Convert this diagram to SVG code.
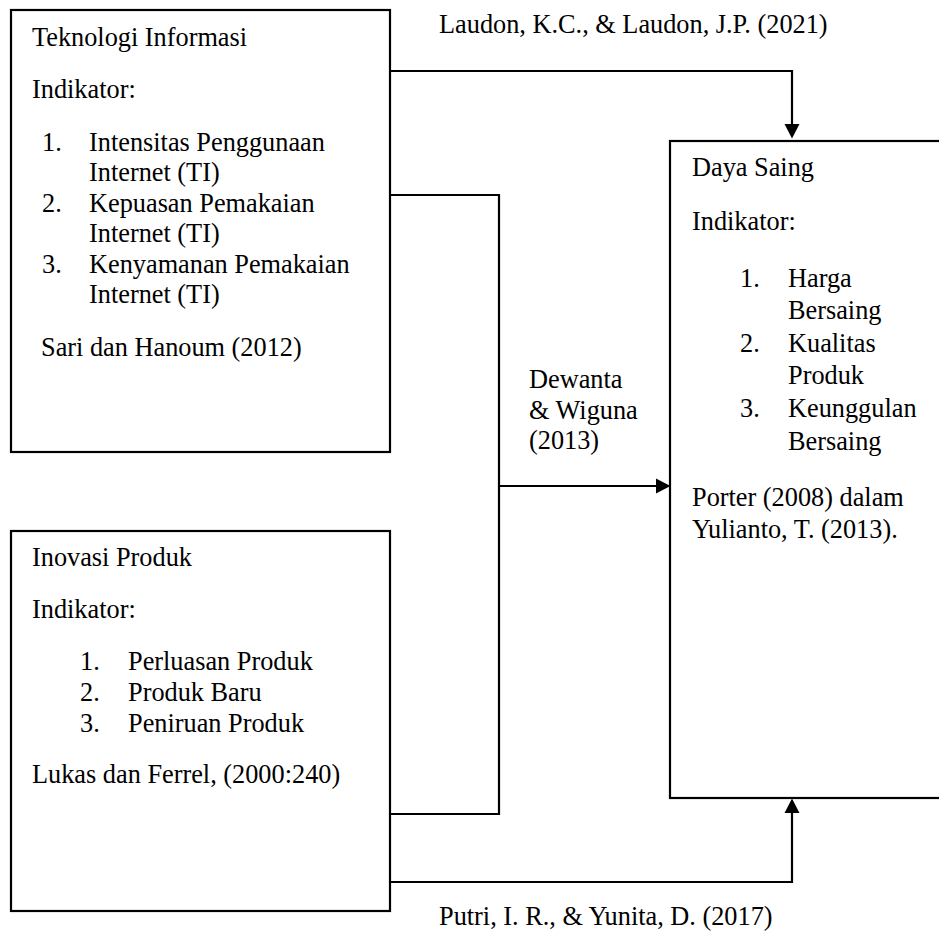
<svg xmlns="http://www.w3.org/2000/svg" width="939" height="932" viewBox="0 0 939 932">
<defs>
<style>
.t{font-family:'Liberation Serif','Times New Roman','DejaVu Serif',serif;font-size:26.3px;fill:#000}
.box{fill:#fff;stroke:#000;stroke-width:2.2}
.conn{fill:none;stroke:#000;stroke-width:2.2}
</style>
<marker id="arrow" markerUnits="userSpaceOnUse" markerWidth="15" markerHeight="16" refX="0" refY="7.5" orient="auto" overflow="visible">
<path d="M0,0 L14.5,7.5 L0,15 z" fill="#000"/>
</marker>
</defs>
<rect width="939" height="932" fill="#fff"/>
<g id="connectors">
<path class="conn" d="M390,71 H792 V124" marker-end="url(#arrow)"/>
<path class="conn" d="M390,195 H499 V814 H390"/>
<path class="conn" d="M499,486 H656" marker-end="url(#arrow)"/>
<path class="conn" d="M390,882 H792 V813" marker-end="url(#arrow)"/>
</g>
<g id="labels" class="t" font-family="Liberation Serif, serif">
<text x="439" y="33">Laudon, K.C., &amp; Laudon, J.P. (2021)</text>
<text x="529" y="388">Dewanta</text>
<text x="529" y="419">&amp; Wiguna</text>
<text x="529" y="449">(2013)</text>
<text x="439" y="925">Putri, I. R., &amp; Yunita, D. (2017)</text>
</g>
<g id="node-ti">
<rect class="box" x="11" y="10" width="379" height="442"/>
<g class="t" font-family="Liberation Serif, serif">
<text x="32" y="45.5">Teknologi Informasi</text>
<text x="32" y="98">Indikator:</text>
<text x="42" y="150.5">1.</text><text x="89" y="150.5">Intensitas Penggunaan</text>
<text x="89" y="181">Internet (TI)</text>
<text x="42" y="211.5">2.</text><text x="89" y="211.5">Kepuasan Pemakaian</text>
<text x="89" y="242">Internet (TI)</text>
<text x="42" y="272.5">3.</text><text x="89" y="272.5">Kenyamanan Pemakaian</text>
<text x="89" y="303">Internet (TI)</text>
<text x="41" y="356">Sari dan Hanoum (2012)</text>
</g>
</g>
<g id="node-inovasi">
<rect class="box" x="11" y="531" width="379" height="380"/>
<g class="t" font-family="Liberation Serif, serif">
<text x="32" y="566">Inovasi Produk</text>
<text x="32" y="618">Indikator:</text>
<text x="80" y="670">1.</text><text x="128" y="670">Perluasan Produk</text>
<text x="80" y="701">2.</text><text x="128" y="701">Produk Baru</text>
<text x="80" y="732">3.</text><text x="128" y="732">Peniruan Produk</text>
<text x="32" y="783">Lukas dan Ferrel, (2000:240)</text>
</g>
</g>
<g id="node-daya-saing">
<rect class="box" x="670" y="141" width="290" height="657"/>
<g class="t" font-family="Liberation Serif, serif">
<text x="692" y="176">Daya Saing</text>
<text x="692" y="230">Indikator:</text>
<text x="740" y="287">1.</text><text x="788" y="287">Harga</text>
<text x="788" y="319">Bersaing</text>
<text x="740" y="352">2.</text><text x="788" y="352">Kualitas</text>
<text x="788" y="384">Produk</text>
<text x="740" y="417">3.</text><text x="788" y="417">Keunggulan</text>
<text x="788" y="450">Bersaing</text>
<text x="692" y="506">Porter (2008) dalam</text>
<text x="692" y="538">Yulianto, T. (2013).</text>
</g>
</g>
</svg>
